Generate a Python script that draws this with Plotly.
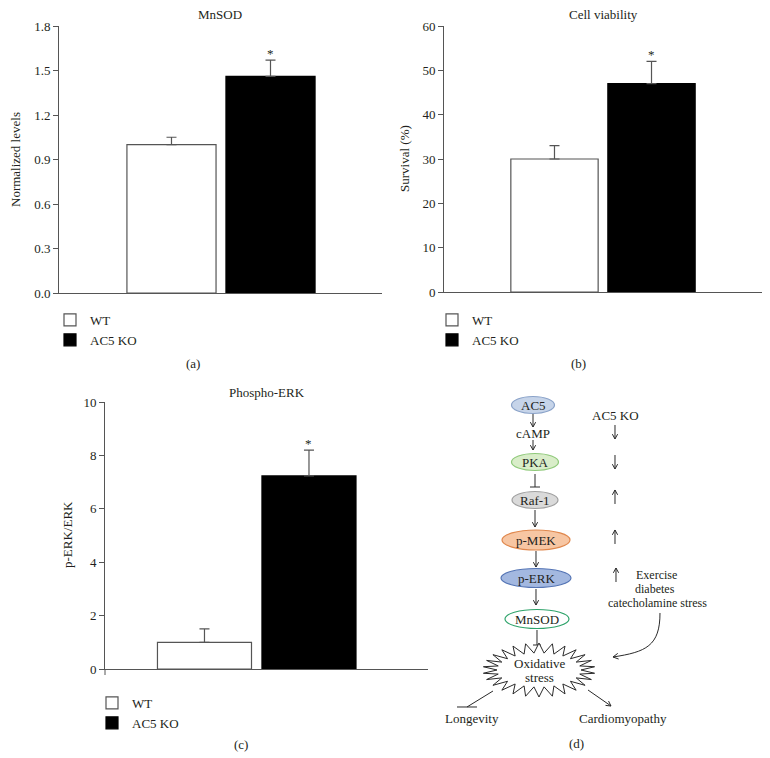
import math
import plotly.graph_objects as go

# ---------------- data ----------------
groups = ["WT", "AC5 KO"]
mnsod_vals = [1.0, 1.46]
mnsod_err = [0.05, 0.11]
viab_vals = [30, 47]
viab_err = [3, 5]
perk_vals = [1.0, 7.23]
perk_err = [0.5, 0.97]
bar_colors = ["white", "black"]
bar_lines = ["#555555", "#000000"]

W, H = 770, 758
OX, OY = 8, 8  # page body margin compensation
FONT = "Liberation Serif"
TXT = "#231f20"
AX = "#555555"

fig = go.Figure()

panels = [
    dict(vals=mnsod_vals, err=mnsod_err, xa="x", ya="y", leg="legend"),
    dict(vals=viab_vals, err=viab_err, xa="x2", ya="y2", leg="legend2"),
    dict(vals=perk_vals, err=perk_err, xa="x3", ya="y3", leg="legend3"),
]
for p in panels:
    for i, g in enumerate(groups):
        fig.add_trace(go.Bar(
            x=[g], y=[p["vals"][i]], name=g, width=0.9,
            marker=dict(color=bar_colors[i], line=dict(color=bar_lines[i], width=1.2)),
            error_y=dict(type="data", symmetric=False, array=[p["err"][i]], arrayminus=[0],
                         color="#555555", thickness=1.2, width=5),
            xaxis=p["xa"], yaxis=p["ya"], legend=p["leg"], showlegend=True,
        ))
        if i == 1:
            fig.add_annotation(x=g, y=p["vals"][i] + p["err"][i], xref=p["xa"], yref=p["ya"],
                               text="*", showarrow=False, yanchor="middle", yshift=7,
                               font=dict(family=FONT, size=13, color=TXT))

def px(x):
    return (x - OX) / W

def py(y):
    return 1 - (y - OY) / H

def yax(top, bottom, rng, dtick, fmt):
    return dict(domain=[py(bottom), py(top)], range=rng, dtick=dtick, tickformat=fmt,
                showline=True, linecolor=AX, linewidth=1, ticks="outside", ticklen=5,
                tickcolor=AX, showgrid=False, zeroline=False,
                tickfont=dict(family=FONT, size=13, color=TXT))

def xax(left, right, rng, anchor):
    return dict(domain=[px(left), px(right)], range=rng, anchor=anchor, type="category",
                showline=True, linecolor=AX, linewidth=1, ticks="", showticklabels=False,
                showgrid=False, zeroline=False)

leg_common = dict(xanchor="left", yanchor="top", bgcolor="rgba(0,0,0,0)",
                  font=dict(family=FONT, size=13, color=TXT), tracegroupgap=0, itemclick=False)

fig.update_layout(
    width=W, height=H, margin=dict(l=0, r=0, t=0, b=0, autoexpand=False),
    paper_bgcolor="white", plot_bgcolor="rgba(0,0,0,0)", barmode="overlay",
    xaxis=xax(59, 382, [-1.136, 2.126], "y"),
    yaxis=yax(26, 293, [0, 1.8], 0.3, ".1f") | dict(anchor="x"),
    xaxis2=xax(444, 762, [-1.139, 2.139], "y2"),
    yaxis2=yax(26, 292, [0, 60], 10, "d") | dict(anchor="x2"),
    xaxis3=xax(105, 428, [-0.952, 2.139], "y3"),
    yaxis3=yax(402, 669, [0, 10], 2, "d") | dict(anchor="x3"),
    legend=dict(x=px(50), y=py(305), **leg_common),
    legend2=dict(x=px(432), y=py(305), **leg_common),
    legend3=dict(x=px(92), y=py(688), **leg_common),
    showlegend=True,
)

def text(x, y, s, size=13, angle=0):
    fig.add_annotation(x=px(x), y=py(y), xref="paper", yref="paper", text=s, showarrow=False,
                       textangle=angle, xanchor="center", yanchor="middle",
                       font=dict(family=FONT, size=size, color=TXT))

# panel titles / labels
text(220, 14, "MnSOD")
text(603, 15, "Cell viability")
text(267, 392, "Phospho-ERK")
text(16, 160, "Normalized levels", 13, -90)
text(405, 159, "Survival (%)", 13, -90)
text(67, 535, "p-ERK/ERK", 13, -90)
text(193, 364, "(a)")
text(578, 364, "(b)")
text(241, 744, "(c)")
text(576, 743, "(d)")

# ---------------- diagram (d) ----------------
LC = "#2a2a2a"
shapes = []

def P(x, y):
    return f"{px(x):.5f},{py(y):.5f}"

def ellipse(cx, cy, rx, ry, fill, line):
    shapes.append(dict(type="circle", xref="paper", yref="paper", x0=px(cx - rx), x1=px(cx + rx),
                       y0=py(cy + ry), y1=py(cy - ry), fillcolor=fill,
                       line=dict(color=line, width=1.2)))

def add_path(d, fill=None):
    s = dict(type="path", xref="paper", yref="paper", path=d, line=dict(color=LC, width=1))
    if fill:
        s["fillcolor"] = fill
    shapes.append(s)

def head(x0, y0, x1, y1, hl=5.5, sp=0.5):
    a = math.atan2(y1 - y0, x1 - x0)
    h1 = (x1 - hl * math.cos(a - sp), y1 - hl * math.sin(a - sp))
    h2 = (x1 - hl * math.cos(a + sp), y1 - hl * math.sin(a + sp))
    return f"M{P(*h1)} L{P(x1, y1)} L{P(*h2)}"

def arrow(x0, y0, x1, y1):
    add_path(f"M{P(x0, y0)} L{P(x1, y1)} " + head(x0, y0, x1, y1))

def tbar(x0, y0, x1, y1, bx0, bx1):
    add_path(f"M{P(x0, y0)} L{P(x1, y1)} M{P(bx0, y1)} L{P(bx1, y1)}")

# small extension of the (c) y-axis below zero, as in the original
shapes.append(dict(type="line", xref="paper", yref="paper", x0=px(105), x1=px(105),
                   y0=py(669), y1=py(675), line=dict(color=AX, width=1)))

ellipse(533, 405, 21.5, 8.5, "#c6d4e9", "#8ba3c9")
text(533, 405, "AC5")
arrow(533, 414, 533, 427)
text(533, 433, "cAMP")
arrow(533, 440, 533, 450)
ellipse(535, 462, 23.5, 8.5, "#d9edc9", "#8fc97a")
text(535, 462, "PKA")
tbar(535, 474, 535, 487, 530, 540)
ellipse(535, 500, 23, 8.5, "#dadada", "#a0a0a0")
text(535, 500, "Raf-1")
arrow(535, 510, 535, 527)
ellipse(536, 540, 34, 10, "#f7c6a3", "#e0884e")
text(536, 540, "p-MEK")
arrow(536, 551, 536, 567)
ellipse(536, 578, 35, 9.5, "#a3b8e0", "#5575b5")
text(536, 578, "p-ERK")
arrow(536, 589, 536, 605)
ellipse(537, 619, 32, 9.5, "white", "#2ea36a")
text(537, 619, "MnSOD")
tbar(537, 630, 537, 645, 533, 541)

# starburst
cx, cy = 539, 670
n = 26
pts = []
for k in range(2 * n):
    t = math.pi * k / n - math.pi / 2
    rx, ry = (56, 27) if k % 2 == 0 else (42, 17)
    pts.append((cx + rx * math.cos(t), cy + ry * math.sin(t)))
add_path("M" + " L".join(P(x, y) for x, y in pts) + " Z", fill="white")
text(539, 663, "Oxidative")
text(539, 677, "stress")

tbar(493, 691, 467, 707, 457, 477)
text(472, 718, "Longevity")
arrow(588, 690, 611, 706)
text(623, 718, "Cardiomyopathy")

text(615, 415, "AC5 KO")
arrow(615, 425, 615, 439)
arrow(615, 455, 615, 469)
arrow(615, 504, 615, 490)
arrow(615, 544, 615, 530)
arrow(616, 582, 616, 568)
text(656, 575, "Exercise", 12)
text(655, 589, "diabetes", 12)
text(657, 603, "catecholamine stress", 12)

# curved arrow
add_path(f"M{P(660, 613)} C{P(660, 646)} {P(646, 652)} {P(613, 657)} " + head(646, 652, 613, 657, 6))

fig.update_layout(shapes=shapes)
fig.write_html("out.html")
